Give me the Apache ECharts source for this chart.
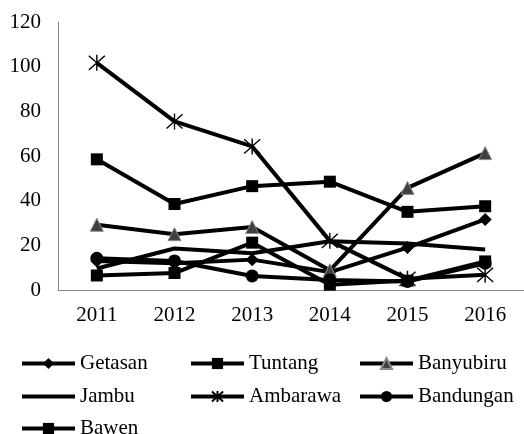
<!DOCTYPE html>
<html>
<head>
<meta charset="utf-8">
<script src="https://cdn.jsdelivr.net/npm/echarts@6/dist/echarts.min.js"></script>
<style>
  html, body { margin: 0; padding: 0; background: #fff; }
  #chart { width: 524px; height: 434px; }
</style>
</head>
<body>
<div id="chart"></div>
<script>
// Years on the category axis
const years = ['2011', '2012', '2013', '2014', '2015', '2016'];

// Values per district
const getasan   = [13, 12, 13.6, 8, 19, 31.6];
const tuntang   = [58.5, 38.5, 46.5, 48.5, 35, 37.5];
const banyubiru = [29.2, 25, 28.2, 8.8, 45.7, 61.3];
const jambu     = [9.6, 18.6, 16.5, 21.8, 20.8, 18.1];
const ambarawa  = [101.7, 75.5, 64.3, 22, 5, 6.8];
const bandungan = [14.2, 13, 6.3, 4.5, 3.8, 12];
const bawen     = [6.5, 7.6, 21.2, 2.4, 4.2, 12.8];

// Y axis ticks
const yMin = 0, yMax = 120, yStep = 20;

const FONT = 'Liberation Serif';
const FONT_SIZE = 21;
const ASTERISK = 'path://M0,0L16,16M16,0L0,16M8,-1L8,17';

function lineSeries(name, data, symbol, size, itemStyle) {
  return {
    name: name,
    type: 'line',
    data: data,
    symbol: symbol,
    symbolSize: size,
    showSymbol: symbol !== 'none',
    showAllSymbol: true,
    lineStyle: { color: '#000', width: 4 },
    itemStyle: Object.assign({ color: '#000' }, itemStyle || {}),
    emphasis: { disabled: true },
    animation: false
  };
}

const series = [
  lineSeries('Getasan', getasan, 'diamond', 13),
  lineSeries('Tuntang', tuntang, 'rect', 12),
  lineSeries('Banyubiru', banyubiru, 'triangle', 13, { color: '#404040', borderColor: '#8c8c8c', borderWidth: 1 }),
  lineSeries('Jambu', jambu, 'none', 0),
  lineSeries('Ambarawa', ambarawa, ASTERISK, 16, { color: 'rgba(0,0,0,0)', borderColor: '#000', borderWidth: 1.4 }),
  lineSeries('Bandungan', bandungan, 'circle', 13),
  lineSeries('Bawen', bawen, 'rect', 12)
];

// Legend layout: three columns, three rows
const legendPos = [
  ['Getasan', 20, 0], ['Tuntang', 189, 0], ['Banyubiru', 358, 0],
  ['Jambu', 20, 1], ['Ambarawa', 189, 1], ['Bandungan', 358, 1],
  ['Bawen', 20, 2]
];
const rowTops = [353, 386, 418];

const legends = legendPos.map(function (p) {
  const lg = {
    data: [p[0]],
    left: p[1],
    top: rowTops[p[2]],
    padding: 0,
    itemWidth: 53,
    itemHeight: 14,
    itemGap: 0,
    selectedMode: false,
    lineStyle: { color: '#000', width: 4 },
    textStyle: { fontFamily: FONT, fontSize: FONT_SIZE, color: '#000' }
  };
  // the Jambu line has no marker, so its key is a plain line
  if (p[0] === 'Jambu') lg.itemStyle = { opacity: 0 };
  return lg;
});

const chart = echarts.init(document.getElementById('chart'), null, { renderer: 'canvas' });
chart.setOption({
  animation: false,
  backgroundColor: '#fff',
  grid: { left: 58, top: 22, width: 469, height: 268, containLabel: false },
  legend: legends,
  xAxis: {
    type: 'category',
    data: years,
    boundaryGap: true,
    axisLine: { show: true, lineStyle: { color: '#868686', width: 1 } },
    axisTick: { show: false },
    axisLabel: { fontFamily: FONT, fontSize: FONT_SIZE, color: '#000', margin: 15 },
    splitLine: { show: false }
  },
  yAxis: {
    type: 'value',
    min: yMin,
    max: yMax,
    interval: yStep,
    axisLine: { show: true, lineStyle: { color: '#868686', width: 1 } },
    axisTick: { show: false },
    axisLabel: { fontFamily: FONT, fontSize: FONT_SIZE, color: '#000', margin: 17 },
    splitLine: { show: false }
  },
  series: series
});
</script>
</body>
</html>
